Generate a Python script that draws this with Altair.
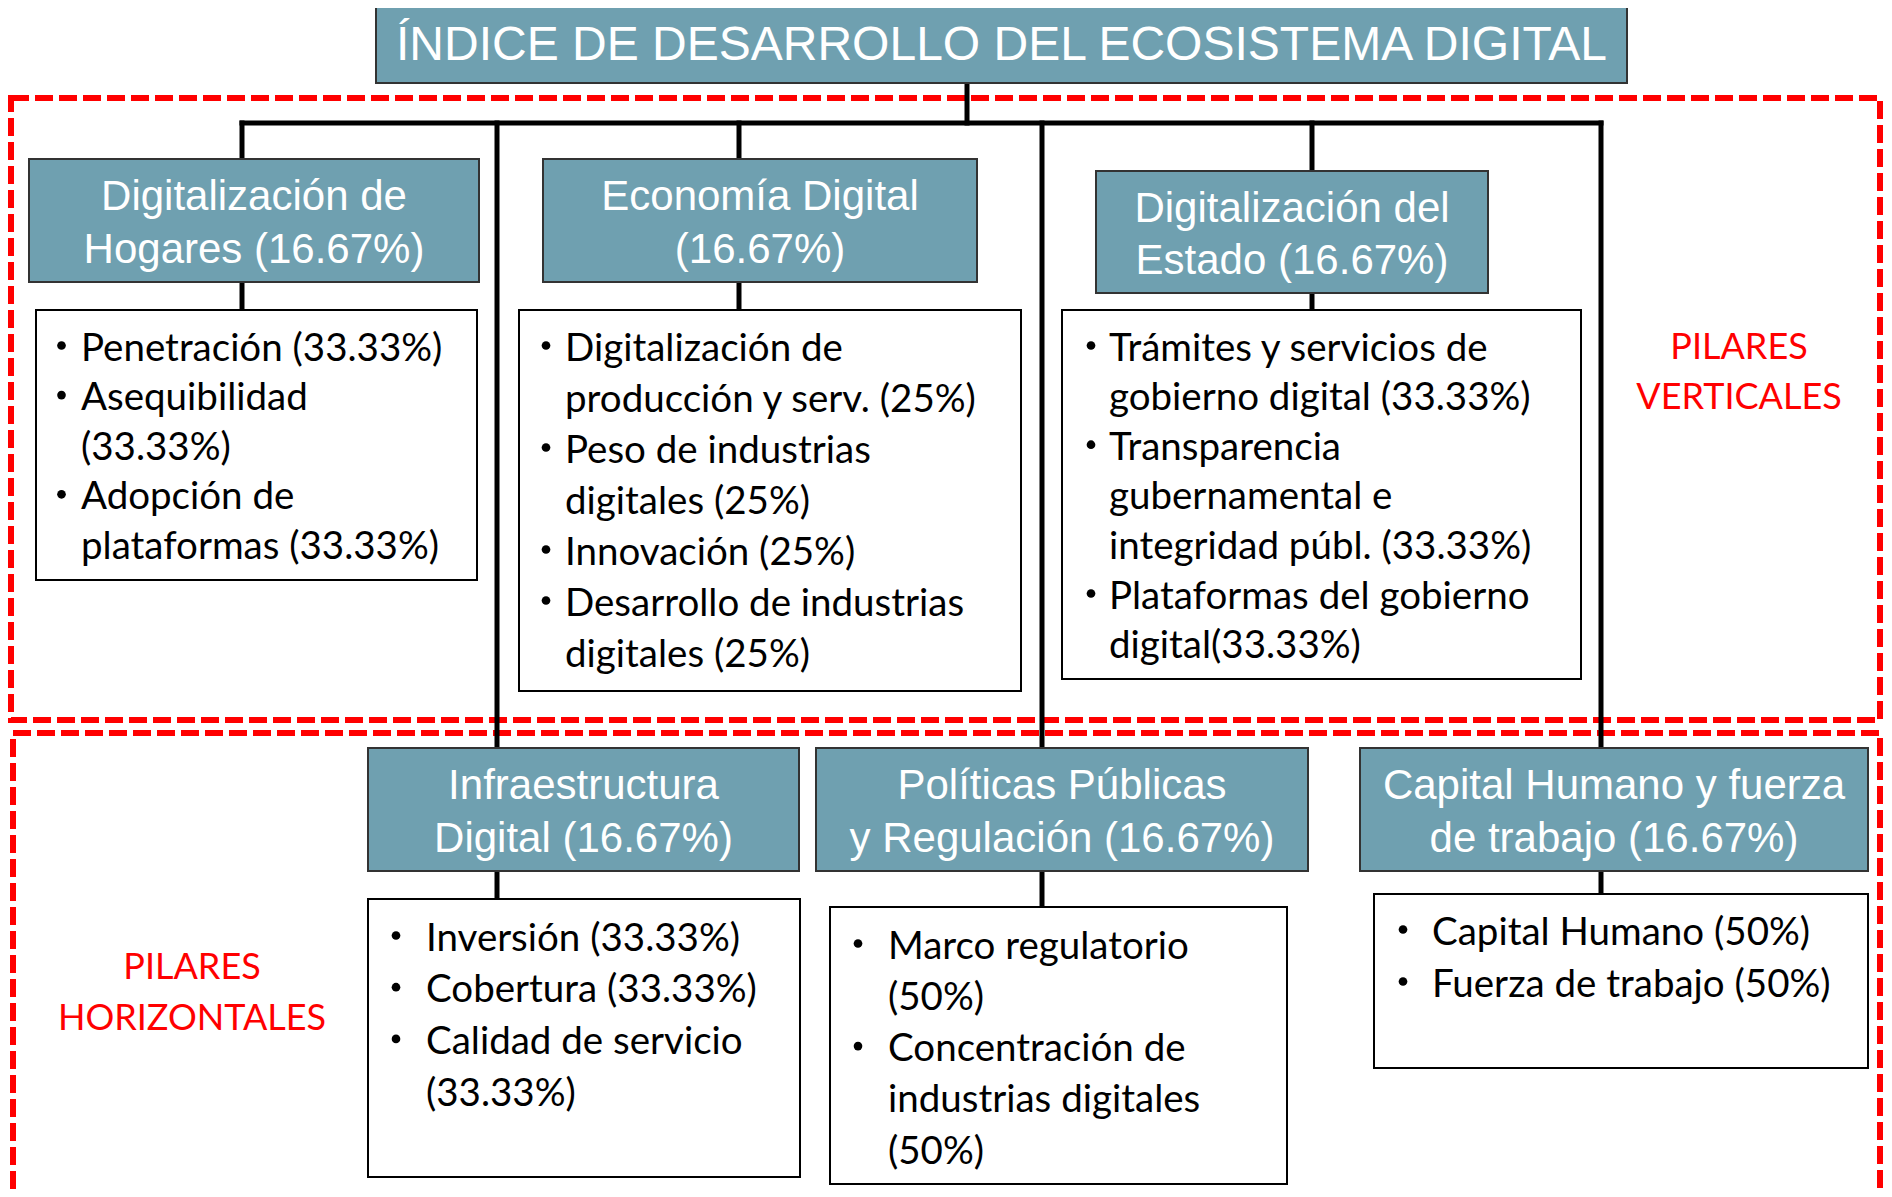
import altair as alt
import pandas as pd

# ---------------- content ----------------
title_text = "ÍNDICE DE DESARROLLO DEL ECOSISTEMA DIGITAL"

pillar_names = [
    ["Digitalización de", "Hogares (16.67%)"],
    ["Economía Digital", "(16.67%)"],
    ["Digitalización del", "Estado (16.67%)"],
    ["Infraestructura", "Digital (16.67%)"],
    ["Políticas Públicas", "y Regulación (16.67%)"],
    ["Capital Humano y fuerza", "de trabajo (16.67%)"],
]

pillar_items = [
    [["Penetración (33.33%)"], ["Asequibilidad", "(33.33%)"], ["Adopción de", "plataformas (33.33%)"]],
    [["Digitalización de", "producción y serv. (25%)"], ["Peso de industrias", "digitales (25%)"],
     ["Innovación (25%)"], ["Desarrollo de industrias", "digitales (25%)"]],
    [["Trámites y servicios de", "gobierno digital (33.33%)"],
     ["Transparencia", "gubernamental e", "integridad públ. (33.33%)"],
     ["Plataformas del gobierno", "digital(33.33%)"]],
    [["Inversión (33.33%)"], ["Cobertura (33.33%)"], ["Calidad de servicio", "(33.33%)"]],
    [["Marco regulatorio", "(50%)"], ["Concentración de", "industrias digitales", "(50%)"]],
    [["Capital Humano (50%)"], ["Fuerza de trabajo (50%)"]],
]

group_labels = [["PILARES", "VERTICALES"], ["PILARES", "HORIZONTALES"]]

# ---------------- layout (page pixel coordinates) ----------------
title_box = dict(x1=376, x2=1627, y1=6, y2=83)
header_boxes = [
    dict(x1=29, x2=479, y1=159, y2=282),
    dict(x1=543, x2=977, y1=159, y2=282),
    dict(x1=1096, x2=1488, y1=171, y2=293),
    dict(x1=368, x2=799, y1=748, y2=871),
    dict(x1=816, x2=1308, y1=748, y2=871),
    dict(x1=1360, x2=1868, y1=748, y2=871),
]
item_boxes = [
    dict(x1=36, x2=477, y1=310, y2=580, bx=61.5, tx=81, ty=348.5, dy=49.6),
    dict(x1=519, x2=1021, y1=310, y2=691, bx=546, tx=565, ty=348.5, dy=51.0),
    dict(x1=1062, x2=1581, y1=310, y2=679, bx=1091, tx=1109, ty=348.5, dy=49.6),
    dict(x1=368, x2=800, y1=899, y2=1177, bx=396, tx=426, ty=938.5, dy=51.7),
    dict(x1=830, x2=1287, y1=907, y2=1184, bx=858, tx=888, ty=946.5, dy=51.3),
    dict(x1=1374, x2=1868, y1=894, y2=1068, bx=1403, tx=1432, ty=932.5, dy=52.0),
]
group_boxes = [
    dict(x1=11, x2=1880, y1=98, y2=720, cx=1739, cy=347.5, dy=50),
    dict(x1=13, x2=1880, y1=733, y2=1230, cx=192, cy=967.5, dy=51),
]
connectors = [
    (967, 83, 967, 123), (242, 123, 1601, 123),
    (242, 123, 242, 159), (497, 123, 497, 748), (739, 123, 739, 159),
    (1042, 123, 1042, 748), (1312, 123, 1312, 171), (1601, 123, 1601, 748),
    (242, 282, 242, 310), (739, 282, 739, 310), (1312, 293, 1312, 310),
    (497, 871, 497, 899), (1042, 871, 1042, 907), (1601, 871, 1601, 894),
]

# ---------------- tables ----------------
X0, Y0, W, H = 8, 8, 1876, 1181
xs = alt.Scale(domain=[X0, X0 + W], nice=False, zero=False)
ys = alt.Scale(domain=[Y0, Y0 + H], nice=False, zero=False, reverse=True)

hdr_rects = pd.DataFrame([title_box] + header_boxes)
item_rects = pd.DataFrame([{k: b[k] for k in ("x1", "x2", "y1", "y2")} for b in item_boxes])
grp_rects = pd.DataFrame([{k: b[k] for k in ("x1", "x2", "y1", "y2")} for b in group_boxes])
rules = pd.DataFrame(connectors, columns=["x1", "y1", "x2", "y2"])

hdr_text = []
for b, lines in zip(header_boxes, pillar_names):
    cx = (b["x1"] + b["x2"]) / 2
    cy = (b["y1"] + b["y2"]) / 2 + 3
    n = len(lines)
    for i, t in enumerate(lines):
        hdr_text.append(dict(x=cx, y=cy + (i - (n - 1) / 2) * 52.5, text=t))
hdr_text = pd.DataFrame(hdr_text)
title_df = pd.DataFrame([dict(x=(title_box["x1"] + title_box["x2"]) / 2,
                              y=(title_box["y1"] + title_box["y2"]) / 2 + 1.5, text=title_text)])

item_text, bullet_pts = [], []
for b, items in zip(item_boxes, pillar_items):
    k = 0
    for it in items:
        bullet_pts.append(dict(x=b["bx"], y=b["ty"] + k * b["dy"] - 3))
        for line in it:
            item_text.append(dict(x=b["tx"], y=b["ty"] + k * b["dy"], text=line))
            k += 1
item_text = pd.DataFrame(item_text)
bullet_pts = pd.DataFrame(bullet_pts)

grp_text = []
for b, lines in zip(group_boxes, group_labels):
    for i, t in enumerate(lines):
        grp_text.append(dict(x=b["cx"], y=b["cy"] + i * b["dy"], text=t))
grp_text = pd.DataFrame(grp_text)


def rect_layer(df, **mk):
    return alt.Chart(df).mark_rect(**mk).encode(
        x=alt.X("x1:Q", scale=xs, axis=None), x2="x2:Q",
        y=alt.Y("y1:Q", scale=ys, axis=None), y2="y2:Q")


def text_layer(df, **mk):
    return alt.Chart(df).mark_text(baseline="middle", **mk).encode(
        x=alt.X("x:Q", scale=xs, axis=None),
        y=alt.Y("y:Q", scale=ys, axis=None),
        text="text:N")


HDR_FILL = "#6FA0B0"
BODY_FONT = "Lato"

layers = [
    rect_layer(grp_rects, fill="white", fillOpacity=0, stroke="#FF0000",
               strokeWidth=6, strokeDash=[18, 6]),
    alt.Chart(rules).mark_rule(color="black", strokeWidth=5, strokeCap="square").encode(
        x=alt.X("x1:Q", scale=xs, axis=None), x2="x2:Q",
        y=alt.Y("y1:Q", scale=ys, axis=None), y2="y2:Q"),
    rect_layer(hdr_rects, fill=HDR_FILL, stroke="#333333", strokeWidth=2),
    rect_layer(item_rects, fill="white", stroke="black", strokeWidth=2),
    text_layer(title_df, font="Liberation Sans", fontSize=48, color="white", align="center"),
    text_layer(hdr_text, font="Liberation Sans", fontSize=42, color="white", align="center"),
    text_layer(item_text, font=BODY_FONT, fontSize=38.5, color="black", align="left"),
    alt.Chart(bullet_pts).mark_circle(color="black", opacity=1, size=75).encode(
        x=alt.X("x:Q", scale=xs, axis=None),
        y=alt.Y("y:Q", scale=ys, axis=None)),
    text_layer(grp_text, font=BODY_FONT, fontSize=36, color="#FF0000", align="center"),
]

chart = alt.layer(*layers).properties(
    width=W, height=H, padding=0,
    autosize=alt.AutoSizeParams(type="none"),
    background="white",
).configure_view(stroke=None)

chart.save("out.html", embed_options={"renderer": "svg", "actions": False})
